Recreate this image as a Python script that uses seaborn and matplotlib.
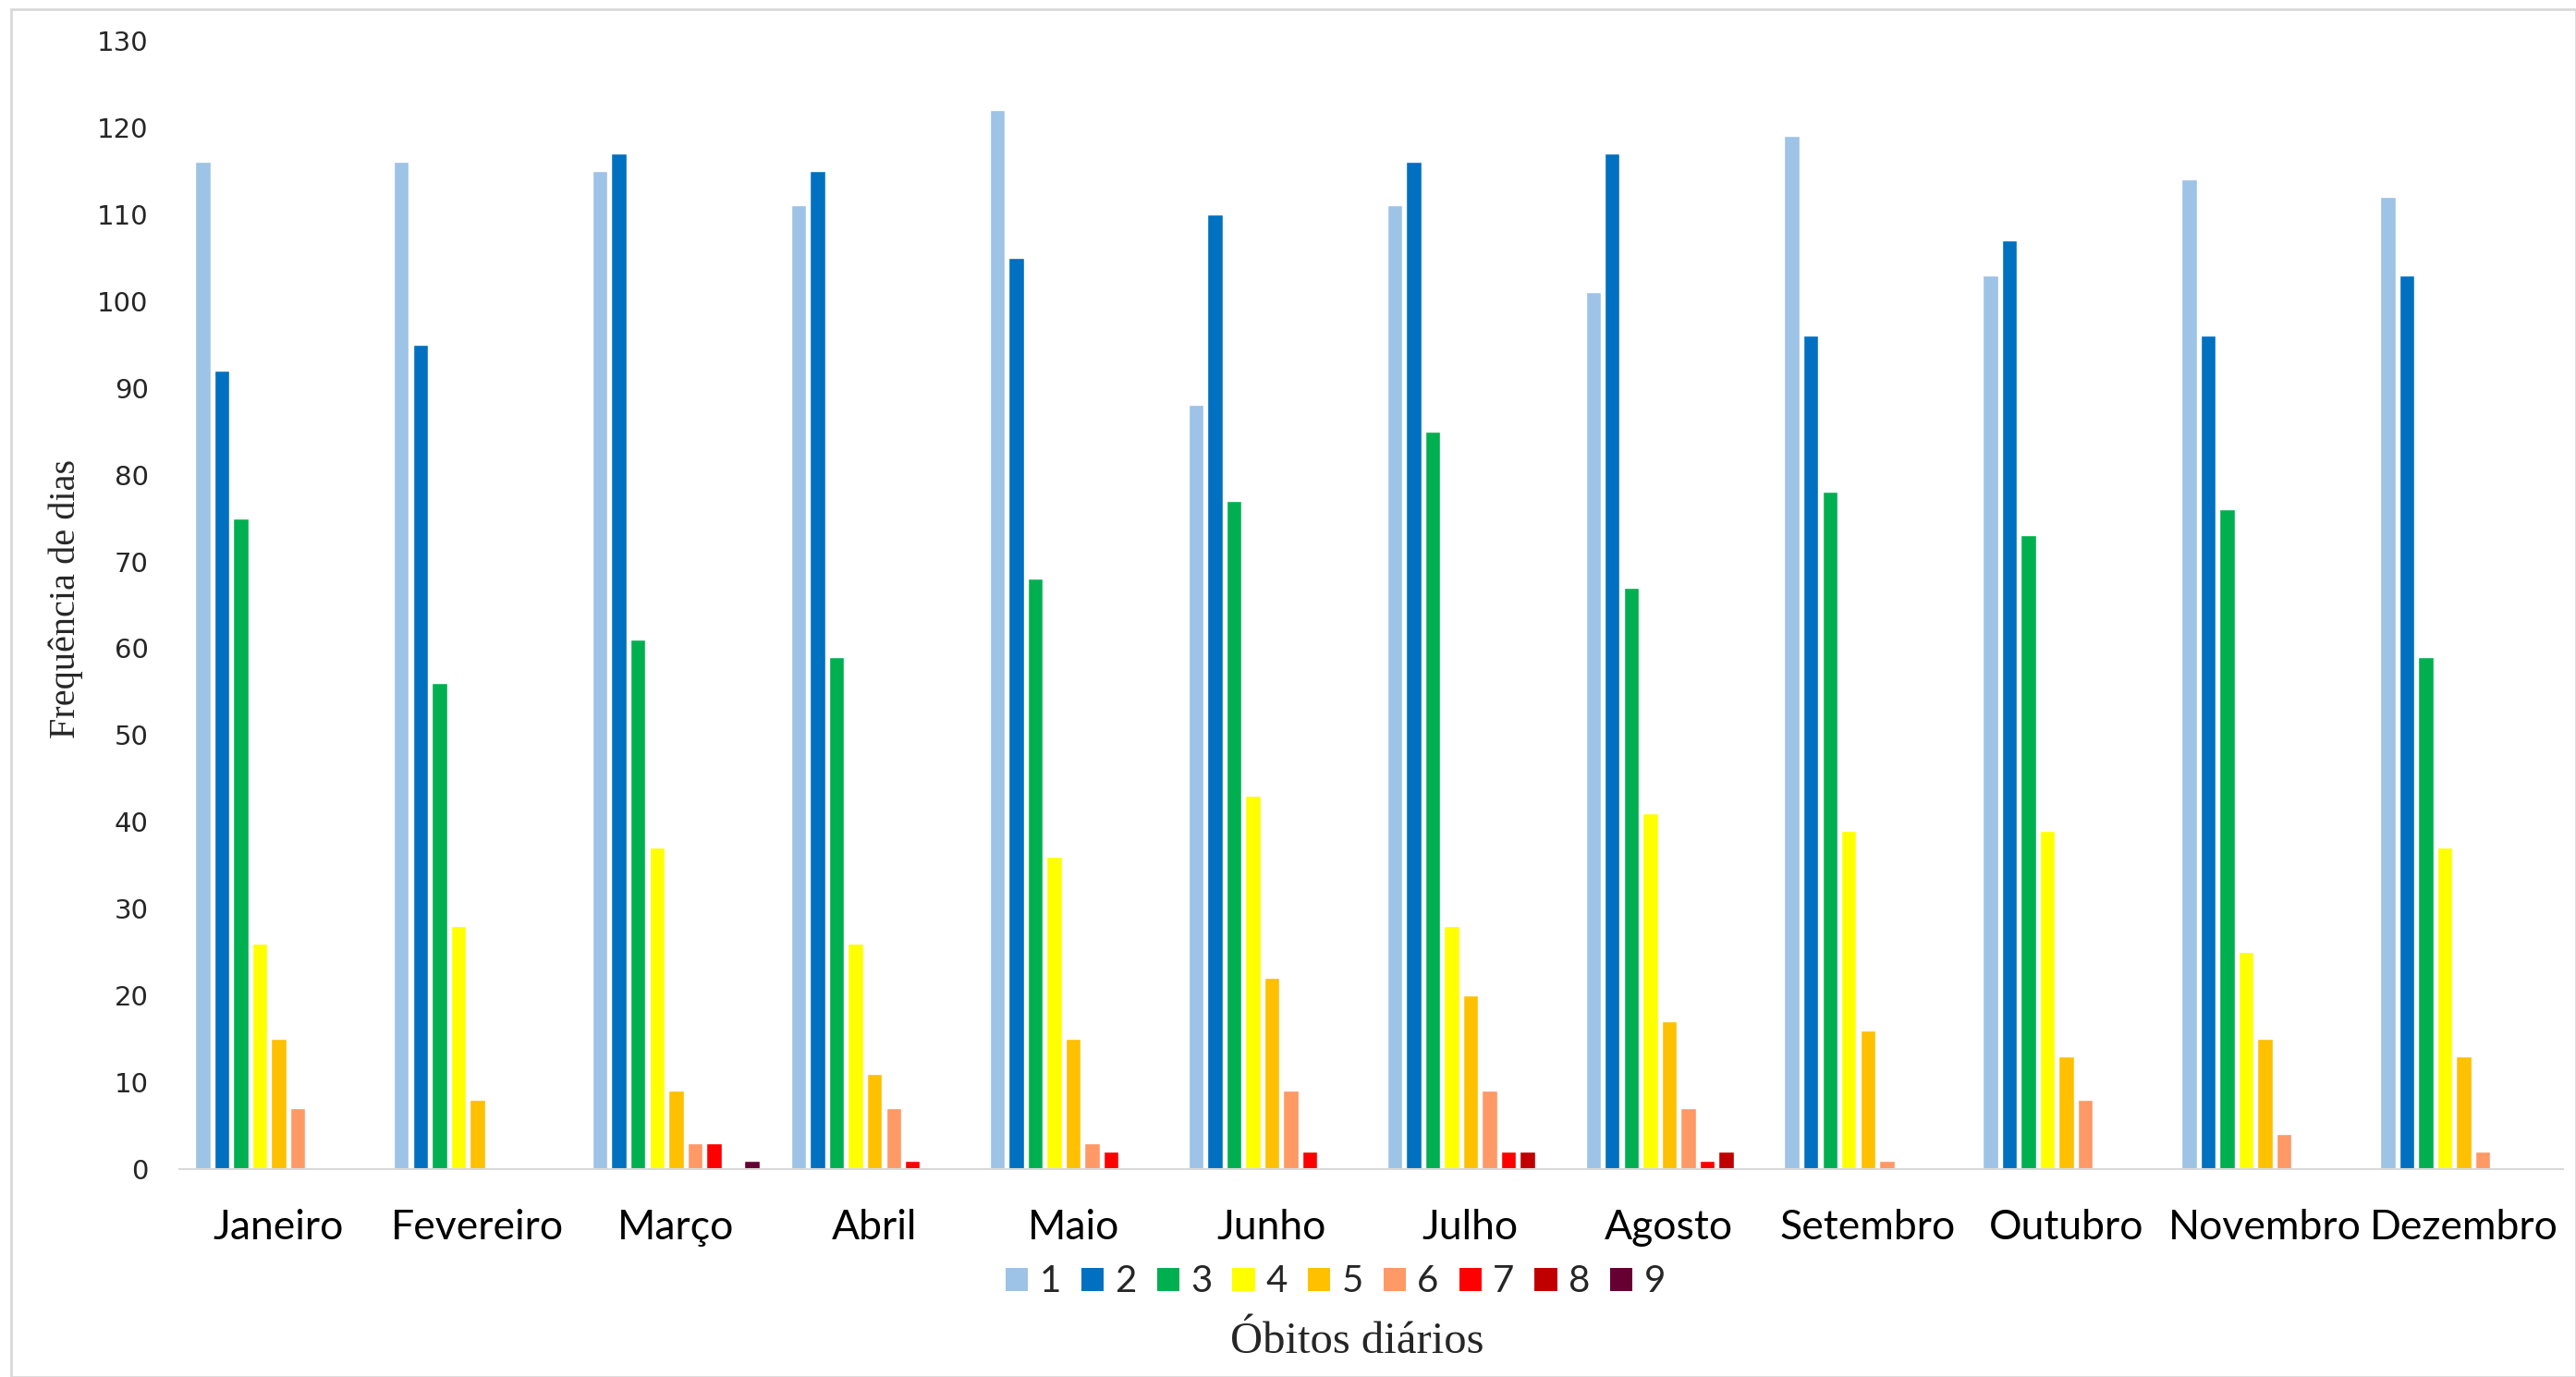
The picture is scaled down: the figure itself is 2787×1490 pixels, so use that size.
import numpy as np
import pandas as pd
import matplotlib
matplotlib.use("Agg")
import matplotlib.pyplot as plt
from matplotlib.patches import Rectangle
import seaborn as sns

meses = ["Janeiro", "Fevereiro", "Março", "Abril", "Maio", "Junho",
         "Julho", "Agosto", "Setembro", "Outubro", "Novembro", "Dezembro"]
obitos = ["1", "2", "3", "4", "5", "6", "7", "8", "9"]

# frequência de dias por número de óbitos diários (uma lista por mês)
jan = [116, 92, 75, 26, 15, 7, 0, 0, 0]
fev = [116, 95, 56, 28, 8, 0, 0, 0, 0]
mar = [115, 117, 61, 37, 9, 3, 3, 0, 1]
abr = [111, 115, 59, 26, 11, 7, 1, 0, 0]
mai = [122, 105, 68, 36, 15, 3, 2, 0, 0]
jun = [88, 110, 77, 43, 22, 9, 2, 0, 0]
jul = [111, 116, 85, 28, 20, 9, 2, 2, 0]
ago = [101, 117, 67, 41, 17, 7, 1, 2, 0]
set_ = [119, 96, 78, 39, 16, 1, 0, 0, 0]
out = [103, 107, 73, 39, 13, 8, 0, 0, 0]
nov = [114, 96, 76, 25, 15, 4, 0, 0, 0]
dez = [112, 103, 59, 37, 13, 2, 0, 0, 0]

cores = ["#9DC3E6", "#0070C0", "#00B050", "#FFFF00", "#FFC000",
         "#FF9966", "#FF0000", "#C00000", "#660033"]

valores = [jan, fev, mar, abr, mai, jun, jul, ago, set_, out, nov, dez]
linhas = []
for mes, vals in zip(meses, valores):
    for ob, v in zip(obitos, vals):
        linhas.append({"mes": mes, "obitos": ob, "freq": v})
df = pd.DataFrame(linhas)

sns.set_theme(style="white")
plt.rcParams["font.family"] = ["Lato", "DejaVu Sans"]

W, H, DPI = 2787, 1490, 100
fig = plt.figure(figsize=(W / DPI, H / DPI), dpi=DPI)
ax = fig.add_axes([194 / W, 1 - 1265 / H, (2773 - 194) / W, (1265 - 44) / H])

sns.barplot(data=df, x="mes", y="freq", hue="obitos", hue_order=obitos,
            order=meses, palette=cores, width=0.86, gap=0.2,
            saturation=1, ax=ax, legend=False)

ax.set_ylim(0, 130)
ax.set_xlim(-0.5, len(meses) - 0.5)
ax.set_yticks(np.arange(0, 131, 10))
ax.set_yticklabels([str(v) for v in range(0, 131, 10)],
                   fontsize=21, family="DejaVu Sans", stretch="expanded")
ax.tick_params(axis="y", length=0, pad=24)
ax.tick_params(axis="x", length=0, pad=31, labelsize=32)
for lab in ax.get_xticklabels():
    lab.set_color("black")

for s in ["top", "right", "left"]:
    ax.spines[s].set_visible(False)
ax.spines["bottom"].set_color("#D9D9D9")
ax.spines["bottom"].set_linewidth(1.5)

ax.set_xlabel("")
ax.set_ylabel("")
fig.text(71 / W, 1 - 648 / H, "Frequência de dias", rotation=90,
         ha="center", va="center", fontsize=29, family="Liberation Serif")
fig.text(1468 / W, 1 - 1452 / H, "Óbitos diários", ha="center", va="center",
         fontsize=35, family="Liberation Serif")

handles = [Rectangle((0, 0), 1, 1, facecolor=c, edgecolor="none") for c in cores]
fig.legend(handles, obitos, loc="center", bbox_to_anchor=(1445 / W, 1 - 1387 / H),
           ncol=9, frameon=False, fontsize=29, handlelength=0.6,
           handleheight=0.6, handletextpad=0.3, columnspacing=0.55)

fig.patches.append(Rectangle((12 / W, 0.0), 1 - 12 / W, 1 - 10 / H,
                             transform=fig.transFigure, fill=False,
                             edgecolor="#D9D9D9", linewidth=2))

fig.savefig("out.png", dpi=DPI, facecolor="white")
